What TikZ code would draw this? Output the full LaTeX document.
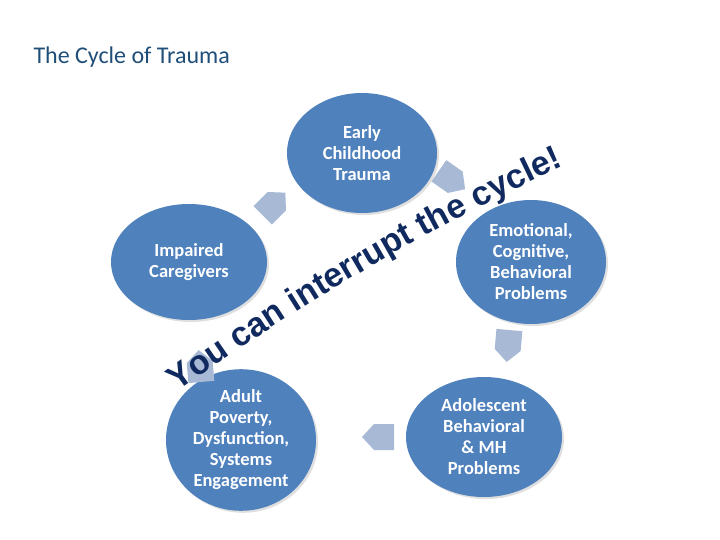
\documentclass[tikz,border=0pt]{standalone}
\usepackage{fontspec}
\setmainfont{Carlito}
\newfontfamily\bannerfont{Liberation Sans}
\usetikzlibrary{decorations.text,shadows,shapes.geometric}
\definecolor{cblue}{HTML}{4F81BD}
\definecolor{arr}{HTML}{A8B9D6}
\definecolor{ttl}{HTML}{1F4E79}
\definecolor{navy}{HTML}{102A60}
\begin{document}
\begin{tikzpicture}[x=1pt,y=1pt,
  stage/.style={ellipse,fill=cblue,draw=none,minimum width=150pt,minimum height=120pt,
    text=white,font=\fontsize{18.5}{21}\selectfont\bfseries,align=center,inner sep=0pt,
    drop shadow={shadow xshift=2pt,shadow yshift=-2pt,opacity=0.25}},
  chev/.style={fill=arr,draw=none}]
\useasboundingbox (0,0) rectangle (720,-540);
\node[anchor=west,text=ttl,font=\fontsize{24}{26}\selectfont] (title) at (30,-57) {The Cycle of Trauma};
\node[stage] (early) at (362,-153) {Early\\Childhood\\Trauma};
\node[stage,minimum width=156pt,minimum height=116pt] (imp) at (189,-262) {Impaired\\Caregivers};
\node[stage,minimum height=124pt] (emo) at (531,-262) {Emotional,\\Cognitive,\\Behavioral\\Problems};
\node[stage,minimum width=156pt] (ado) at (484,-437) {Adolescent\\Behavioral\\\& MH\\Problems};
\node[stage] (adu) at (241,-440) {Adult\\Poverty,\\Dysfunction,\\Systems\\Engagement};
\foreach \p/\r in {{(274,-204)}/45,{(452,-180)}/-35,{(508,-346)}/-95,{(378,-437)}/180,{(200,-366)}/95}{
  \fill[chev,shift={\p},rotate=\r] (-16,-13) -- (4,-13) -- (16,0) -- (4,13) -- (-16,13) -- cycle;
}
\path[decorate,decoration={text along path,
  text={|\fontsize{34}{34}\selectfont\bannerfont\bfseries\color{navy}|You can interrupt the cycle!}}]
  (178,-392) .. controls (280,-318) and (430,-224) .. (600,-150);
\end{tikzpicture}
\end{document}
